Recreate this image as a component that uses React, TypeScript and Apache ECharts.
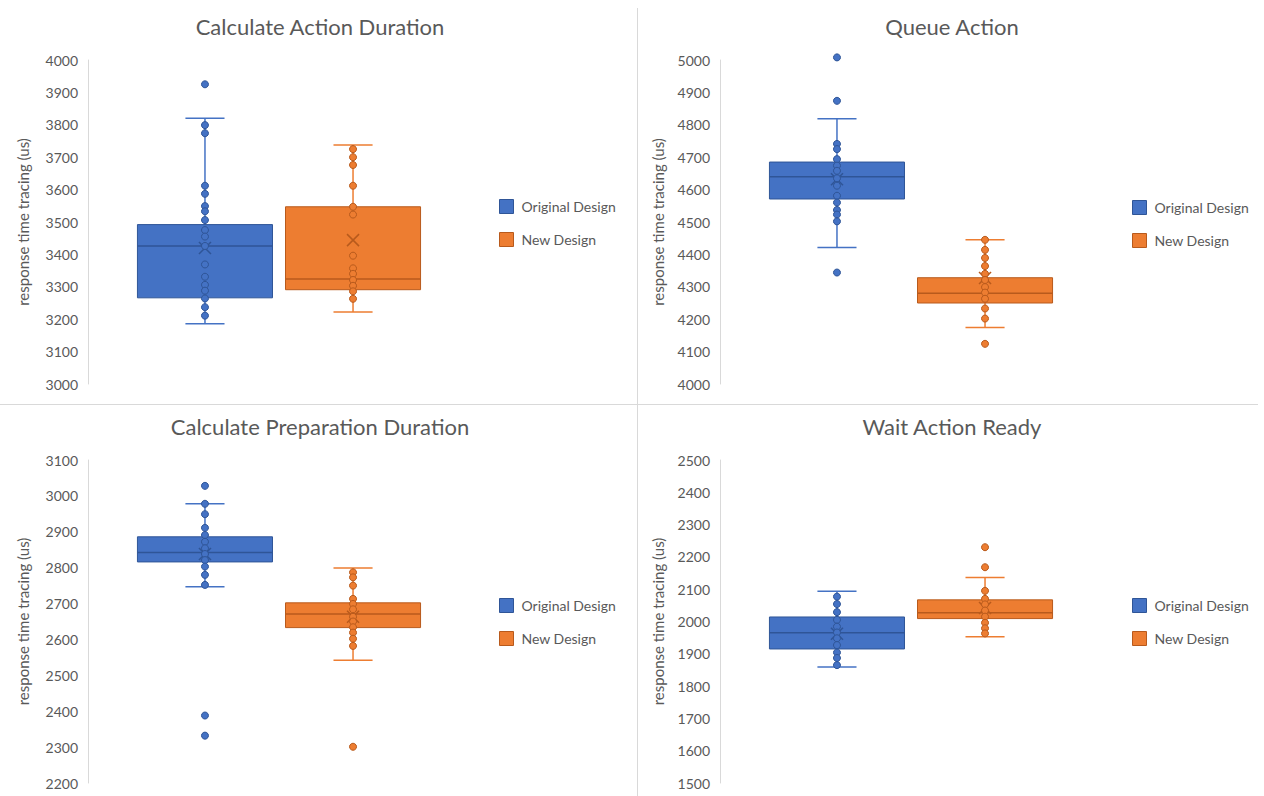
import React, { useEffect, useRef } from "react";
import * as echarts from "echarts";

// Panel titles and axis ranges (top-left, top-right, bottom-left, bottom-right)
const panelTitles = [
  "Calculate Action Duration",
  "Queue Action",
  "Calculate Preparation Duration",
  "Wait Action Ready",
];
const axisMin = [3000, 4000, 2200, 1500];
const axisMax = [4000, 5000, 3100, 2500];
const axisStep = 100;
const axisName = "response time tracing (us)";

const seriesNames = ["Original Design", "New Design"];

// Box statistics per panel: [lower whisker, Q1, median, Q3, upper whisker]
const originalBoxes = [
  [3186, 3266, 3426, 3492, 3820],
  [4421, 4571, 4640, 4685, 4819],
  [2747, 2816, 2842, 2886, 2978],
  [1859, 1915, 1965, 2014, 2094],
];
const newBoxes = [
  [3222, 3291, 3324, 3547, 3738],
  [4174, 4250, 4280, 4328, 4445],
  [2542, 2633, 2671, 2702, 2799],
  [1953, 2009, 2027, 2067, 2136],
];

// Mean values (drawn as an X marker)
const originalMeans = [3420, 4632, 2838, 1962];
const newMeans = [3444, 4327, 2663, 2042];

// Inner points per panel
const originalInner = [
  [3799, 3774, 3612, 3587, 3549, 3533, 3506, 3475, 3455, 3426, 3369, 3331, 3306, 3288, 3264, 3237, 3211],
  [4741, 4725, 4694, 4674, 4658, 4635, 4612, 4581, 4560, 4537, 4523, 4502],
  [2978, 2949, 2911, 2891, 2872, 2854, 2838, 2821, 2803, 2780, 2752],
  [2077, 2054, 2029, 2005, 1984, 1966, 1948, 1927, 1904, 1887, 1865],
];
const newInner = [
  [3725, 3700, 3676, 3612, 3547, 3523, 3396, 3357, 3340, 3321, 3303, 3286, 3263],
  [4445, 4414, 4389, 4364, 4340, 4321, 4299, 4282, 4263, 4233, 4202],
  [2787, 2773, 2750, 2713, 2699, 2684, 2663, 2650, 2634, 2619, 2602, 2582],
  [2095, 2070, 2053, 2034, 2015, 1996, 1979, 1963],
];

// Outlier points per panel
const originalOutliers = [[3925], [5008, 4874, 4344], [3028, 2388, 2332], []];
const newOutliers = [[], [4124], [2301], [2230, 2168]];

const FILL = ["#4472C4", "#ED7D31"];
const EDGE = ["#2F5597", "#B85A1C"];
const TEXT = "#595959";
const FONT = "Lato, 'Open Sans', sans-serif";

// Panel geometry in page pixels
const grids = [
  { left: 88, top: 60, width: 382, height: 324 },
  { left: 720, top: 60, width: 382, height: 324 },
  { left: 88, top: 460, width: 382, height: 323 },
  { left: 720, top: 460, width: 382, height: 323 },
];
const titleCenters = [
  [320, 15],
  [952, 15],
  [320, 415],
  [952, 415],
];
const legendPos = [
  [499, 199],
  [1132, 200],
  [499, 598],
  [1132, 598],
];
const nameGaps = [58, 55, 58, 55];

function renderBox(params: any, api: any) {
  const x = api.value(0);
  const lo = api.coord([x, api.value(1)]);
  const q1 = api.coord([x, api.value(2)]);
  const med = api.coord([x, api.value(3)]);
  const q3 = api.coord([x, api.value(4)]);
  const hi = api.coord([x, api.value(5)]);
  const mean = api.coord([x, api.value(6)]);
  const idx = api.value(7);
  const unit = api.size([1, 0])[0];
  const cx = lo[0];
  const halfBox = unit * 0.456;
  const halfCap = unit * 0.132;
  const fill = FILL[idx];
  const edge = EDGE[idx];
  const ln = (x1: number, y1: number, x2: number, y2: number, stroke: string, w: number) => ({
    type: "line",
    shape: { x1, y1, x2, y2 },
    style: { stroke, lineWidth: w },
  });
  const m = 6;
  return {
    type: "group",
    children: [
      ln(cx, q3[1], cx, hi[1], fill, 1.5),
      ln(cx, q1[1], cx, lo[1], fill, 1.5),
      ln(cx - halfCap, hi[1], cx + halfCap, hi[1], fill, 1.5),
      ln(cx - halfCap, lo[1], cx + halfCap, lo[1], fill, 1.5),
      {
        type: "rect",
        shape: { x: cx - halfBox, y: q3[1], width: halfBox * 2, height: q1[1] - q3[1] },
        style: { fill, stroke: edge, lineWidth: 1 },
      },
      ln(cx - halfBox, med[1], cx + halfBox, med[1], edge, 1.5),
      ln(cx - m, mean[1] - m, cx + m, mean[1] + m, edge, 1.5),
      ln(cx - m, mean[1] + m, cx + m, mean[1] - m, edge, 1.5),
    ],
  };
}

function buildOption() {
  const series: any[] = [];
  const boxSets = [originalBoxes, newBoxes];
  const meanSets = [originalMeans, newMeans];
  const innerSets = [originalInner, newInner];
  const outlierSets = [originalOutliers, newOutliers];

  for (let p = 0; p < 4; p++) {
    for (let s = 0; s < 2; s++) {
      const b = boxSets[s][p];
      series.push({
        type: "custom",
        name: seriesNames[s],
        xAxisIndex: p,
        yAxisIndex: p,
        itemStyle: { color: FILL[s], borderColor: EDGE[s] },
        renderItem: renderBox,
        encode: { x: 0, y: [1, 2, 3, 4, 5, 6] },
        data: [[s, b[0], b[1], b[2], b[3], b[4], meanSets[s][p], s]],
        silent: true,
        z: 2,
      });
    }
    for (let s = 0; s < 2; s++) {
      const pts = innerSets[s][p].concat(outlierSets[s][p]).map((v) => [s, v]);
      series.push({
        type: "scatter",
        name: seriesNames[s],
        xAxisIndex: p,
        yAxisIndex: p,
        symbol: "circle",
        symbolSize: 7,
        clip: false,
        itemStyle: { color: FILL[s], borderColor: EDGE[s], borderWidth: 1, opacity: 1 },
        data: pts,
        silent: true,
        z: 3,
      });
    }
  }

  return {
    animation: false,
    backgroundColor: "#ffffff",
    textStyle: { fontFamily: FONT },
    title: panelTitles.map((t, i) => ({
      text: t,
      left: titleCenters[i][0],
      top: titleCenters[i][1],
      textAlign: "center",
      padding: 0,
      textStyle: { fontFamily: FONT, fontSize: 22, fontWeight: "normal", color: TEXT },
    })),
    legend: legendPos.map((pos) => ({
      orient: "vertical",
      left: pos[0],
      top: pos[1],
      padding: 0,
      itemWidth: 14,
      itemHeight: 14,
      itemGap: 18,
      icon: "rect",
      selectedMode: false,
      textStyle: { fontFamily: FONT, fontSize: 14, color: TEXT, padding: [0, 0, 0, 3] },
      data: seriesNames.map((n, s) => ({
        name: n,
        itemStyle: { color: FILL[s], borderColor: EDGE[s], borderWidth: 1 },
      })),
    })),
    grid: grids.map((g) => ({ ...g, containLabel: false })),
    xAxis: grids.map((_, i) => ({
      type: "value",
      gridIndex: i,
      min: -0.79,
      max: 1.79,
      show: false,
    })),
    yAxis: grids.map((_, i) => ({
      type: "value",
      gridIndex: i,
      min: axisMin[i],
      max: axisMax[i],
      interval: axisStep,
      name: axisName,
      nameLocation: "middle",
      nameGap: nameGaps[i],
      nameTextStyle: { fontFamily: FONT, fontSize: 15, color: TEXT },
      axisLine: { show: true, onZero: false, lineStyle: { color: "#d9d9d9", width: 1 } },
      axisTick: { show: false },
      splitLine: { show: false },
      axisLabel: {
        fontFamily: FONT,
        fontSize: 14,
        color: TEXT,
        margin: 10,
        formatter: (v: number) => String(v),
      },
    })),
    graphic: [
      {
        type: "line",
        shape: { x1: 637.5, y1: 8, x2: 637.5, y2: 796 },
        style: { stroke: "#d9d9d9", lineWidth: 1 },
        silent: true,
      },
      {
        type: "line",
        shape: { x1: 0, y1: 404.5, x2: 1258, y2: 404.5 },
        style: { stroke: "#d9d9d9", lineWidth: 1 },
        silent: true,
      },
    ],
    series,
  };
}

export default function App() {
  const ref = useRef<HTMLDivElement>(null);
  useEffect(() => {
    if (!ref.current) return;
    const chart = echarts.init(ref.current, undefined, { renderer: "svg" });
    chart.setOption(buildOption() as any);
    return () => chart.dispose();
  }, []);
  return (
    <div
      ref={ref}
      style={{ position: "absolute", left: 0, top: 0, width: 1264, height: 796, background: "#fff" }}
    />
  );
}
